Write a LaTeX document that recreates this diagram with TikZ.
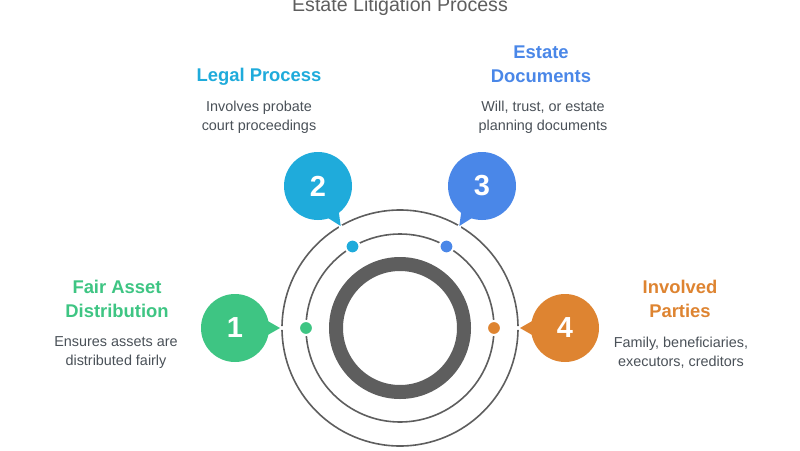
\documentclass[tikz,border=0pt]{standalone}
\usepackage{fontspec}
\setmainfont{Liberation Sans}
\definecolor{cgreen}{HTML}{3EC583}
\definecolor{cblue}{HTML}{1FABDB}
\definecolor{cindigo}{HTML}{4A87E8}
\definecolor{corange}{HTML}{DE8431}
\definecolor{ringc}{HTML}{5E5E5E}
\definecolor{txtc}{HTML}{4A5158}
\tikzset{
 ringline/.style={circle,draw=ringc,line width=1.6pt,minimum size=#1,inner sep=0pt,fill=none},
 bubble/.style={circle,fill=#1,minimum size=68pt,inner sep=0pt,text=white,font=\fontsize{29}{29}\selectfont\bfseries},
 dotm/.style={circle,fill=#1,draw=white,line width=2pt,minimum size=14pt,inner sep=0pt},
 head/.style={align=center,text=#1,font=\fontsize{18.4}{24}\selectfont\bfseries},
 desc/.style={align=center,text=txtc,font=\fontsize{14.4}{18.5}\selectfont},
}
\begin{document}
\begin{tikzpicture}[x=1pt,y=-1pt]
\useasboundingbox (0,0) rectangle (800,450);
\fill[white] (0,0) rectangle (800,450);
\node[text=ringc,font=\fontsize{19.6}{22}\selectfont] (title) at (400,6) {Estate Litigation Process};
% rings
\node[ringline=236pt] (outer) at (400,328) {};
\node[ringline=188pt] (middle) at (400,328) {};
\node[circle,draw=ringc,line width=14pt,minimum size=128pt,inner sep=0pt] (core) at (400,328) {};
% gaps on the outer ring
\foreach \p in {(282,328),(340.7,226.5),(459.3,226.5),(518,328)}{\fill[white] \p circle (2pt);}
% tips
\coordinate (t1) at (280,328);
\coordinate (t2) at (340.7,226);
\coordinate (t3) at (459.3,226);
\coordinate (t4) at (520,328);
% bubbles
\node[bubble=cgreen] (b1) at (235,328) {1};
\node[bubble=cblue] (b2) at (318,186) {2};
\node[bubble=cindigo] (b3) at (482,186) {3};
\node[bubble=corange] (b4) at (565,328) {4};
\fill[cgreen] (t1) -- (266,320) -- (266,336) -- cycle;
\fill[cblue] (t2) -- (328,218) -- (338.5,210) -- cycle;
\fill[cindigo] (t3) -- (472,218) -- (461.5,210) -- cycle;
\fill[corange] (t4) -- (534,320) -- (534,336) -- cycle;
% dots
\node[dotm=cgreen] (d1) at (306,328) {};
\node[dotm=cblue] (d2) at (352.5,246.5) {};
\node[dotm=cindigo] (d3) at (446.5,246.5) {};
\node[dotm=corange] (d4) at (494,328) {};
% text
\node[head=cgreen] (h1) at (117,299) {Fair Asset\\Distribution};
\node[desc] (p1) at (116,352.5) {Ensures assets are\\distributed fairly};
\node[head=cblue] (h2) at (259,76.5) {Legal Process};
\node[desc] (p2) at (259,117.5) {Involves probate\\court proceedings};
\node[head=cindigo] (h3) at (541,64.5) {Estate\\Documents};
\node[desc] (p3) at (543,117.5) {Will, trust, or estate\\planning documents};
\node[head=corange] (h4) at (680,299) {Involved\\Parties};
\node[desc] (p4) at (681,352.5) {Family, beneficiaries,\\executors, creditors};
\end{tikzpicture}
\end{document}
